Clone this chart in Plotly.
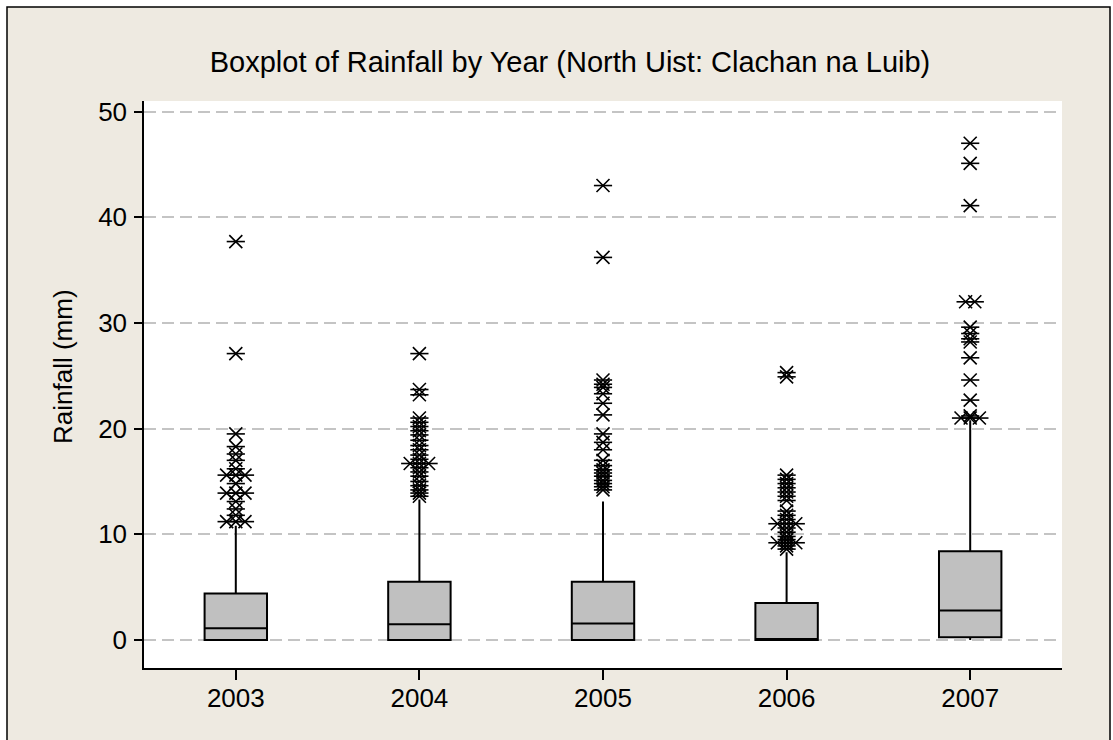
import plotly.graph_objects as go

years = ["2003", "2004", "2005", "2006", "2007"]
q1 = [0.0, 0.0, 0.0, 0.0, 0.25]
median = [1.1, 1.5, 1.55, 0.0, 2.8]
q3 = [4.4, 5.5, 5.5, 3.5, 8.4]
lower_whisker = [0.0, 0.0, 0.0, 0.0, 0.0]
upper_whisker = [10.8, 13.3, 13.1, 8.3, 20.8]

outliers_2003 = [37.7, 27.1, 19.5, 18.3, 17.6, 17.0, 16.2, 15.6, 15.6, 15.6, 14.8,
                 13.9, 13.9, 13.9, 13.1, 12.4, 11.8, 11.2, 11.2, 11.2]
outliers_2004 = [27.1, 23.7, 23.2, 21.0, 20.6, 20.2, 19.8, 19.4, 18.9, 18.4, 18.0,
                 17.5, 17.1, 16.7, 16.7, 16.7, 16.3, 15.9, 15.5, 15.0, 14.6,
                 14.2, 13.9, 13.6]
outliers_2005 = [43.0, 36.2, 24.6, 24.2, 23.9, 23.3, 22.4, 21.3, 19.5, 18.7, 18.0,
                 17.0, 16.5, 16.1, 15.8, 15.5, 15.1, 14.8, 14.5, 14.2]
outliers_2006 = [25.3, 24.9, 15.6, 15.2, 14.8, 14.4, 14.0, 13.6, 13.2, 12.2, 11.8,
                 11.4, 11.0, 11.0, 11.0, 10.6, 10.2, 9.8, 9.5, 9.2, 9.2, 9.2,
                 8.9, 8.6]
outliers_2007 = [47.0, 45.1, 41.1, 32.0, 32.0, 29.6, 29.0, 28.5, 28.2, 26.7, 24.6,
                 22.7, 21.2, 21.0, 21.0, 21.0]
outliers = [outliers_2003, outliers_2004, outliers_2005, outliers_2006, outliers_2007]

y_ticks = [0, 10, 20, 30, 40, 50]

BEIGE = "#EEEAE1"
FONT = "Liberation Sans, Arial, sans-serif"

fig = go.Figure()

for i, yr in enumerate(years):
    fig.add_trace(go.Box(
        x=[i], q1=[q1[i]], median=[median[i]], q3=[q3[i]],
        lowerfence=[lower_whisker[i]], upperfence=[upper_whisker[i]],
        width=0.34, whiskerwidth=0, fillcolor="#C0C0C0",
        line=dict(color="black", width=2), boxpoints=False,
        showlegend=False, hoverinfo="skip",
    ))

# outlier positions: identical values are placed side by side (Minitab style)
ox, oy = [], []
step = 0.05
for i, vals in enumerate(outliers):
    counts = {}
    for v in vals:
        counts[v] = counts.get(v, 0) + 1
    seen = {}
    for v in vals:
        n = counts[v]
        k = seen.get(v, 0)
        seen[v] = k + 1
        ox.append(i + (k - (n - 1) / 2) * step)
        oy.append(v)

for sym in ["x-thin-open", "line-ew-open"]:
    fig.add_trace(go.Scatter(
        x=ox, y=oy, mode="markers",
        marker=dict(symbol=sym, size=13, color="black",
                    line=dict(color="black", width=1.6)),
        showlegend=False, hoverinfo="skip",
    ))

W, H = 1113, 740
L, R, T, B = 144, 51, 101, 72
pw, ph = W - L - R, H - T - B

def px_x(px):
    return (px - L) / pw

def px_y(py):
    return (H - B - py) / ph

fig.update_layout(
    width=W, height=H,
    margin=dict(l=L, r=R, t=T, b=B, autoexpand=False),
    paper_bgcolor="white", plot_bgcolor="white",
    font=dict(family=FONT, color="black"),
    title=dict(text="Boxplot of Rainfall by Year (North Uist: Clachan na Luib)",
               x=570 / W, xref="container", xanchor="center",
               y=1 - 62 / H, yref="container", yanchor="middle",
               font=dict(size=29, family=FONT, color="black")),
    xaxis=dict(range=[-0.5, 4.5], tickmode="array", tickvals=list(range(5)),
               ticktext=years, showgrid=False, zeroline=False,
               showline=True, linecolor="black", linewidth=1.5,
               ticks="outside", ticklen=10, tickwidth=1.5, tickcolor="black",
               ticklabelstandoff=-4,
               tickfont=dict(size=26, family=FONT, color="black")),
    yaxis=dict(range=[-2.65, 51.0], tickmode="array", tickvals=y_ticks,
               showgrid=True, gridcolor="#C4C4C4", gridwidth=1.5, griddash="12px,6px",
               zeroline=False, showline=True, linecolor="black", linewidth=1.5,
               ticks="outside", ticklen=8, tickwidth=1.5, tickcolor="black",
               ticklabelstandoff=2,
               tickfont=dict(size=26, family=FONT, color="black")),
    shapes=[
        dict(type="rect", xref="paper", yref="paper", layer="below",
             x0=px_x(7), x1=px_x(1110), y0=px_y(760), y1=px_y(7),
             fillcolor=BEIGE, line=dict(color="black", width=1.5)),
        dict(type="rect", xref="paper", yref="paper", layer="below",
             x0=0, x1=1, y0=0, y1=1, fillcolor="white", line=dict(width=0)),
    ],
    annotations=[
        dict(text="Rainfall (mm)", textangle=-90, xref="paper", yref="paper",
             x=px_x(63), y=px_y(367), xanchor="center", yanchor="middle",
             showarrow=False, font=dict(size=26, family=FONT, color="black")),
    ],
)

fig.write_html("out.html", config={"displayModeBar": False},
               post_script="document.body.style.margin='0';")
